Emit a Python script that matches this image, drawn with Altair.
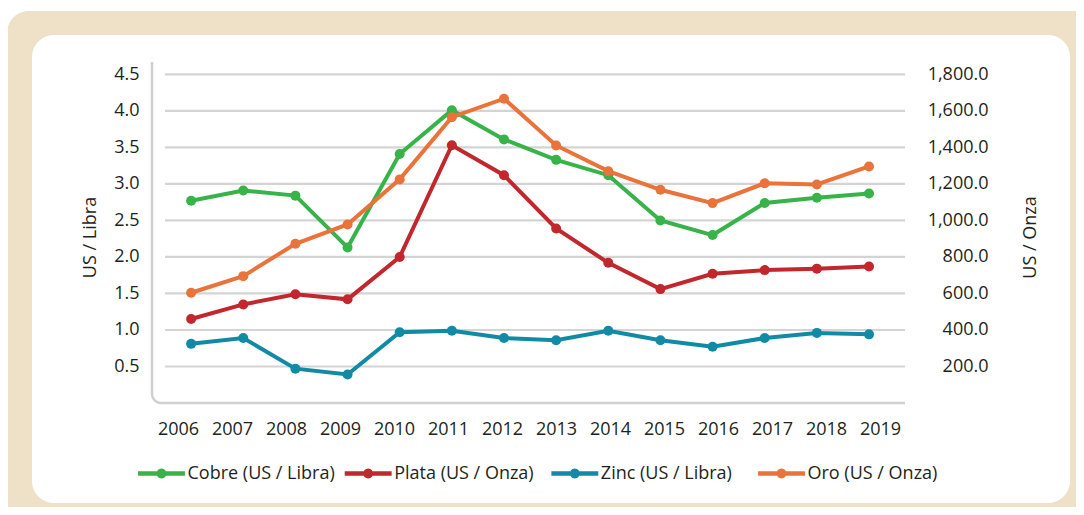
import math
import altair as alt
import pandas as pd

years = list(range(2006, 2020))
cobre = [2.77, 2.91, 2.84, 2.13, 3.41, 4.01, 3.61, 3.33, 3.12, 2.50, 2.30, 2.74, 2.81, 2.87]
plata = [1.15, 1.35, 1.49, 1.42, 2.00, 3.53, 3.12, 2.39, 1.92, 1.56, 1.77, 1.82, 1.84, 1.87]
zinc = [0.81, 0.89, 0.47, 0.39, 0.97, 0.99, 0.89, 0.86, 0.99, 0.86, 0.77, 0.89, 0.96, 0.94]
oro = [604, 695, 872, 978, 1225, 1566, 1667, 1411, 1270, 1168, 1095, 1204, 1197, 1296]

series = ["Cobre (US / Libra)", "Plata (US / Onza)", "Zinc (US / Libra)", "Oro (US / Onza)"]
colors = ["#37B34A", "#C1272D", "#118BA5", "#E9733A"]
left_ticks = [0.5, 1.0, 1.5, 2.0, 2.5, 3.0, 3.5, 4.0, 4.5]
right_ticks = [200, 400, 600, 800, 1000, 1200, 1400, 1600, 1800]

left_df = pd.DataFrame(
    [{"anio": y, "serie": series[0], "valor": v} for y, v in zip(years, cobre)]
    + [{"anio": y, "serie": series[1], "valor": v} for y, v in zip(years, plata)]
    + [{"anio": y, "serie": series[2], "valor": v} for y, v in zip(years, zinc)]
)
right_df = pd.DataFrame([{"anio": y, "serie": series[3], "valor": v} for y, v in zip(years, oro)])
grid_df = pd.DataFrame({"valor": left_ticks})
years_df = pd.DataFrame({"anio": years})
legend_df = pd.DataFrame({"serie": series})
one = pd.DataFrame({"a": [0]})

W, H = 753, 341
FONT = "Open Sans"
TXT = "#231F20"

x_scale = alt.Scale(domain=[2005.25, 2019.69], nice=False, zero=False)
xlab_scale = alt.Scale(domain=[2005.519, 2019.463], nice=False, zero=False)
x_axis = alt.Axis(values=years, format="d", domain=False, ticks=False, grid=False, zindex=2,
                  labelFontSize=18, labelPadding=17, labelColor=TXT, labelFont=FONT, title=None)
yl_scale = alt.Scale(domain=[0, 4.67], nice=False)
yl_axis = alt.Axis(values=left_ticks, format=".1f", domain=False, ticks=False, tickSize=0, grid=False,
                   zindex=2, labelFontSize=18, labelPadding=13, labelColor=TXT, labelFont=FONT,
                   title="US / Libra", titleFontSize=18, titleFontWeight="normal", titleColor=TXT,
                   titleFont=FONT, titleAngle=270, titleX=-62, titleY=175, titleAlign="center",
                   titleBaseline="middle")
yr_scale = alt.Scale(domain=[0, 1868], nice=False)
yr_axis = alt.Axis(orient="right", values=right_ticks, format=",.1f", domain=False, ticks=False,
                   tickSize=0, grid=False, zindex=2, labelFontSize=18, labelPadding=83,
                   labelAlign="right", labelColor=TXT, labelFont=FONT,
                   title="US / Onza", titleFontSize=18, titleFontWeight="normal", titleColor=TXT,
                   titleFont=FONT, titleAngle=270, titleX=125, titleY=175, titleAlign="center",
                   titleBaseline="middle")
color_scale = alt.Scale(domain=series, range=colors)

# legend glyph: short thick line with a dot in the middle (polygon outline)
r, t = 0.21, 0.1
a0 = math.asin(t / r)
pts = [(-1, -t)]
for k in range(11):
    ang = math.pi - a0 - k * (math.pi - 2 * a0) / 10
    pts.append((r * math.cos(ang), -r * math.sin(ang)))
pts += [(1, -t), (1, t)]
for k in range(11):
    ang = -a0 - k * (math.pi - 2 * a0) / 10
    pts.append((r * math.cos(ang), -r * math.sin(ang)))
pts.append((-1, t))
sym = "M" + " L".join(f"{px:.4f},{py:.4f}" for px, py in pts) + " Z"

beige = alt.Chart(one).mark_rect(color="#EFE0C8", cornerRadius=22).encode(
    x=alt.value(-145), x2=alt.value(960), y=alt.value(-51), y2=alt.value(480))
white = alt.Chart(one).mark_rect(color="white", cornerRadius=22).encode(
    x=alt.value(-120), x2=alt.value(918), y=alt.value(-27), y2=alt.value(441))
frame = alt.Chart(one).mark_rect(fill="white", fillOpacity=0, stroke="#D0D0D0", strokeWidth=2.5,
                                 cornerRadius=9).encode(
    x=alt.value(0), x2=alt.value(W + 12), y=alt.value(-12), y2=alt.value(H))
cover_top = alt.Chart(one).mark_rect(color="white").encode(
    x=alt.value(-4), x2=alt.value(W + 16), y=alt.value(-16), y2=alt.value(0))
cover_right = alt.Chart(one).mark_rect(color="white").encode(
    x=alt.value(W), x2=alt.value(W + 16), y=alt.value(-16), y2=alt.value(H + 4))

grid = alt.Chart(grid_df).mark_rule(color="#D4D4D4", strokeWidth=2.2).encode(
    y=alt.Y("valor:Q", scale=yl_scale, axis=yl_axis),
    x=alt.datum(2005.5, scale=x_scale, axis=None),
    x2=alt.datum(2019.69),
)

def lines(df, ys, ya):
    base = alt.Chart(df)
    ln = base.mark_line(strokeWidth=4).encode(
        x=alt.X("anio:Q", scale=x_scale, axis=None),
        y=alt.Y("valor:Q", scale=ys, axis=ya),
        color=alt.Color("serie:N", scale=color_scale, legend=None),
        detail="serie:N",
    )
    pt = base.mark_circle(size=100, opacity=1).encode(
        x=alt.X("anio:Q", scale=x_scale, axis=None),
        y=alt.Y("valor:Q", scale=ys, axis=ya),
        color=alt.Color("serie:N", scale=color_scale, legend=None),
    )
    return ln, pt

l_ln, l_pt = lines(left_df, yl_scale, yl_axis)
r_ln, r_pt = lines(right_df, yr_scale, yr_axis)

left_group = alt.layer(beige, white, frame, cover_top, cover_right, grid, l_ln, l_pt)
right_group = alt.layer(r_ln, r_pt)

x_labels = alt.Chart(years_df).mark_point(opacity=0).encode(
    x=alt.X("anio:Q", scale=xlab_scale, axis=x_axis),
    y=alt.value(0),
)

# legend built from the series names (symbols + labels)
leg_x = alt.X("serie:N", scale=alt.Scale(domain=series, range=[9.5, 629.5], padding=0), axis=None)
leg_sym = alt.Chart(legend_df).mark_point(shape=sym, filled=True, size=2200, opacity=1,
                                          strokeWidth=0).encode(
    x=leg_x, y=alt.value(411.5),
    color=alt.Color("serie:N", scale=color_scale, legend=None),
)
leg_txt = alt.Chart(legend_df).mark_text(align="left", baseline="middle", dx=26, fontSize=18,
                                         font=FONT, color=TXT).encode(
    x=leg_x, y=alt.value(411.5), text="serie:N",
)
legend_group = alt.layer(leg_sym, leg_txt)

chart = alt.layer(left_group, right_group, x_labels, legend_group).resolve_scale(
    x="independent", y="independent"
).properties(
    width=W, height=H,
    padding={"left": 144, "top": 54, "right": 171, "bottom": 104},
    autosize=alt.AutoSizeParams(type="none"),
).configure(background="white").configure_view(stroke=None)

chart.save("out.html", embed_options={"renderer": "svg", "actions": False})
